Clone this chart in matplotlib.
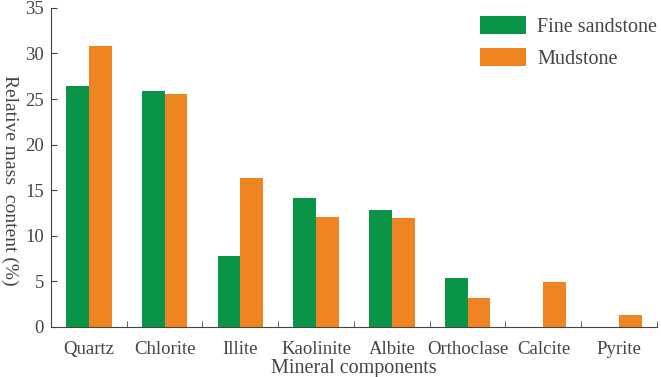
import numpy as np
import matplotlib.pyplot as plt

minerals = ['Quartz', 'Chlorite', 'Illite', 'Kaolinite', 'Albite', 'Orthoclase', 'Calcite', 'Pyrite']
fine_sandstone = [26.4, 25.9, 7.8, 14.1, 12.8, 5.4, 0, 0]
mudstone = [30.8, 25.6, 16.3, 12.1, 12.0, 3.2, 4.9, 1.3]

plt.rcParams['font.family'] = ['Liberation Serif', 'DejaVu Serif']
gray = '#444444'

fig = plt.figure(figsize=(6.61, 3.77), dpi=100)
ax = fig.add_axes([0.077, 0.133, 0.917, 0.846])

x = np.arange(len(minerals))
w = 0.3
ax.bar(x - w / 2, fine_sandstone, w, color='#0A9447', label='Fine sandstone')
ax.bar(x + w / 2, mudstone, w, color='#EE8522', label='Mudstone')

ax.set_xlim(-0.5, len(minerals) - 0.5)
ax.set_ylim(0, 35)
ax.set_yticks(range(0, 36, 5))
ax.set_xticks(x)
ax.set_xticklabels(minerals)
ax.set_xticks(x + 0.5, minor=True)
ax.tick_params(axis='x', which='major', length=0, pad=10, labelsize=13.5, colors=gray)
ax.tick_params(axis='x', which='minor', direction='in', length=4, color=gray)
ax.tick_params(axis='y', direction='in', length=4, labelsize=13.5, colors=gray, pad=5)

for s in ['top', 'right']:
    ax.spines[s].set_visible(False)
for s in ['left', 'bottom']:
    ax.spines[s].set_color(gray)

ax.set_xlabel('Mineral components', fontsize=14.5, color=gray, labelpad=1)
fig.text(10 / 661, 0.522, 'Relative mass  content (%)', fontsize=14, color=gray,
         rotation=270, ha='center', va='center')

ax.legend(loc='upper left', bbox_to_anchor=(480 / 661, 1 - 16 / 377),
          bbox_transform=fig.transFigure, frameon=False, fontsize=14.5,
          handlelength=2.3, handleheight=1.0, handletextpad=0.55,
          labelcolor=gray, labelspacing=0.55, borderpad=0, borderaxespad=0)

fig.savefig('out.png', dpi=100)
